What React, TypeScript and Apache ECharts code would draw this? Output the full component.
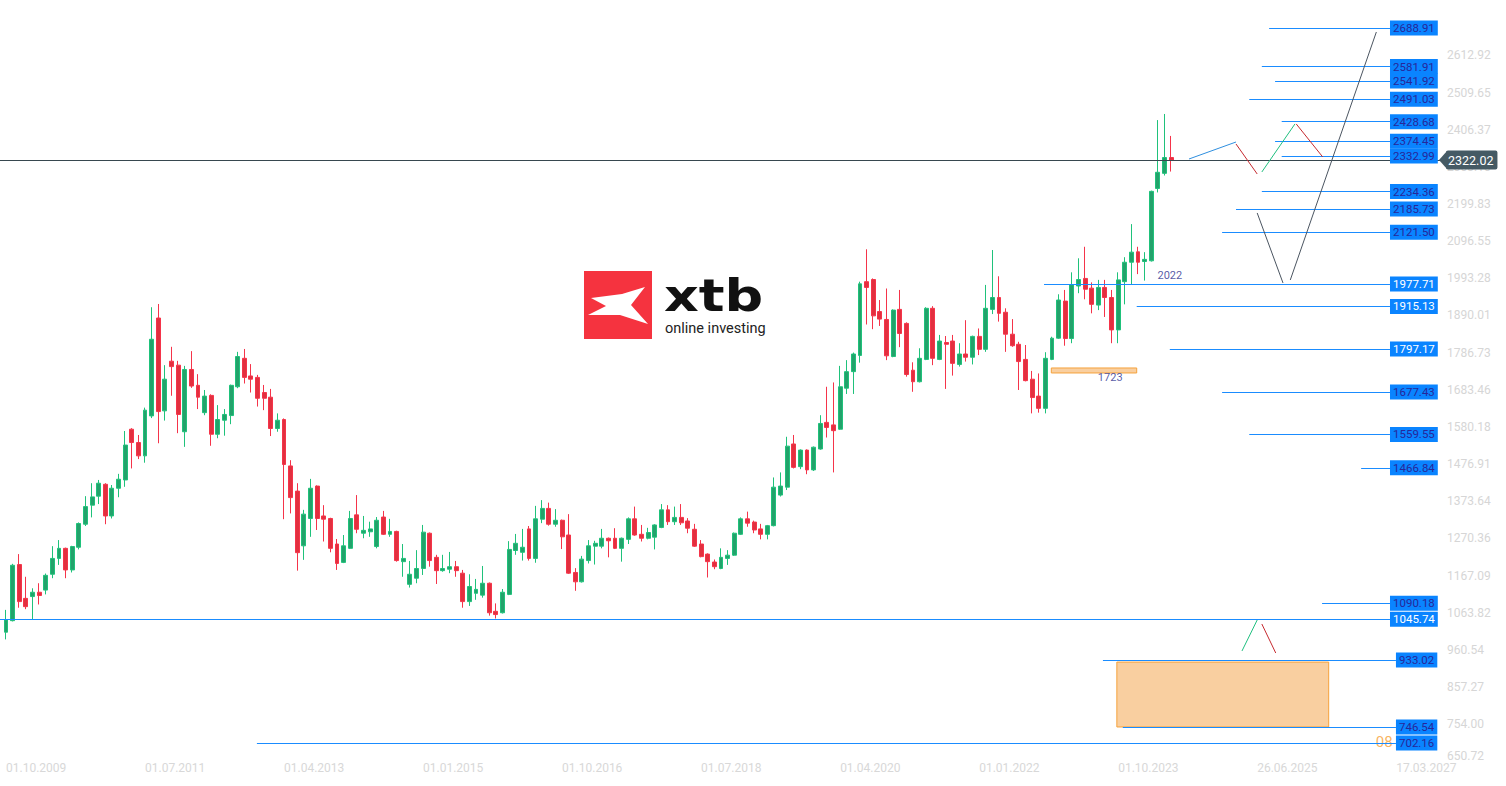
import React, { useEffect, useRef } from "react";
import * as echarts from "echarts";

// Monthly candles from 01.10.2009: [open, close, low, high]
const CANDLES: number[][] = [
  [1010, 1044, 990, 1072], [1042, 1196, 1040, 1200], [1198, 1095, 1078, 1227], [1104, 1081, 1074, 1164],
  [1109, 1121, 1046, 1132], [1121, 1112, 1087, 1146], [1127, 1168, 1115, 1173], [1171, 1215, 1160, 1249],
  [1215, 1243, 1197, 1266], [1243, 1183, 1160, 1245], [1183, 1248, 1176, 1250], [1246, 1312, 1240, 1315],
  [1310, 1359, 1305, 1388], [1363, 1386, 1329, 1424], [1388, 1424, 1366, 1433], [1421, 1333, 1310, 1424],
  [1333, 1410, 1326, 1419], [1410, 1435, 1385, 1450], [1433, 1530, 1414, 1569], [1574, 1537, 1465, 1577],
  [1537, 1500, 1491, 1558], [1500, 1627, 1481, 1634], [1611, 1824, 1605, 1913], [1883, 1623, 1535, 1922],
  [1625, 1713, 1598, 1752], [1763, 1748, 1667, 1803], [1752, 1615, 1563, 1764], [1567, 1740, 1525, 1750],
  [1740, 1694, 1689, 1791], [1696, 1663, 1630, 1727], [1620, 1666, 1613, 1683], [1668, 1560, 1528, 1671],
  [1560, 1601, 1549, 1641], [1599, 1615, 1556, 1630], [1612, 1696, 1588, 1698], [1692, 1776, 1688, 1789],
  [1771, 1718, 1701, 1797], [1722, 1713, 1676, 1755], [1718, 1660, 1637, 1725], [1676, 1660, 1627, 1697],
  [1663, 1576, 1555, 1686], [1576, 1599, 1567, 1618], [1601, 1476, 1324, 1604], [1472, 1384, 1340, 1488],
  [1402, 1231, 1181, 1424], [1250, 1338, 1211, 1350], [1326, 1410, 1275, 1436], [1416, 1326, 1294, 1418],
  [1333, 1324, 1262, 1363], [1326, 1243, 1232, 1328], [1255, 1201, 1183, 1269], [1204, 1250, 1202, 1280],
  [1243, 1326, 1241, 1347], [1336, 1296, 1285, 1391], [1285, 1293, 1271, 1333], [1289, 1297, 1275, 1317],
  [1248, 1321, 1243, 1330], [1330, 1282, 1280, 1347], [1282, 1290, 1275, 1325], [1290, 1209, 1206, 1292],
  [1206, 1215, 1164, 1255], [1143, 1171, 1134, 1208], [1160, 1187, 1146, 1238], [1187, 1288, 1169, 1308],
  [1285, 1209, 1192, 1287], [1218, 1181, 1144, 1225], [1181, 1187, 1178, 1225], [1185, 1192, 1174, 1233],
  [1192, 1181, 1164, 1208], [1174, 1095, 1078, 1183], [1095, 1137, 1083, 1171], [1118, 1129, 1100, 1158],
  [1113, 1146, 1106, 1194], [1146, 1064, 1056, 1148], [1068, 1059, 1048, 1090], [1064, 1121, 1062, 1130],
  [1115, 1240, 1113, 1263], [1237, 1257, 1225, 1283], [1232, 1246, 1209, 1297], [1297, 1215, 1209, 1305],
  [1215, 1325, 1203, 1361], [1324, 1354, 1313, 1377], [1354, 1310, 1306, 1370], [1310, 1321, 1303, 1352],
  [1321, 1275, 1241, 1323], [1280, 1174, 1172, 1338], [1176, 1150, 1125, 1188], [1150, 1213, 1148, 1222],
  [1209, 1250, 1201, 1266], [1249, 1257, 1198, 1264], [1249, 1271, 1243, 1297], [1271, 1264, 1218, 1273],
  [1271, 1243, 1241, 1299], [1243, 1271, 1206, 1273], [1268, 1325, 1255, 1329], [1325, 1280, 1278, 1359],
  [1282, 1271, 1262, 1308], [1271, 1287, 1268, 1300], [1274, 1308, 1240, 1310], [1301, 1350, 1299, 1366],
  [1350, 1317, 1308, 1363], [1317, 1329, 1308, 1359], [1329, 1314, 1308, 1366], [1319, 1299, 1285, 1327],
  [1296, 1249, 1247, 1311], [1255, 1220, 1218, 1266], [1227, 1206, 1162, 1229], [1205, 1192, 1185, 1212],
  [1187, 1218, 1185, 1243], [1215, 1224, 1197, 1238], [1224, 1285, 1222, 1287], [1282, 1325, 1280, 1329],
  [1325, 1313, 1303, 1345], [1316, 1294, 1285, 1320], [1297, 1282, 1268, 1311], [1282, 1306, 1268, 1308],
  [1306, 1413, 1304, 1440], [1391, 1416, 1387, 1454], [1413, 1527, 1405, 1553], [1533, 1468, 1465, 1558],
  [1470, 1516, 1463, 1518], [1516, 1461, 1449, 1518], [1461, 1524, 1458, 1526], [1519, 1590, 1517, 1613],
  [1593, 1579, 1551, 1692], [1586, 1570, 1454, 1704], [1574, 1692, 1572, 1750], [1688, 1734, 1672, 1766],
  [1734, 1783, 1672, 1787], [1779, 1978, 1759, 1984], [1984, 1968, 1865, 2074], [1990, 1889, 1852, 1993],
  [1901, 1880, 1861, 1933], [1879, 1778, 1766, 1965], [1776, 1905, 1774, 1907], [1907, 1840, 1802, 1961],
  [1868, 1726, 1720, 1871], [1738, 1706, 1678, 1760], [1706, 1771, 1704, 1799], [1768, 1910, 1766, 1913],
  [1910, 1771, 1752, 1916], [1768, 1819, 1766, 1836], [1815, 1810, 1686, 1833], [1819, 1757, 1723, 1836],
  [1754, 1783, 1748, 1813], [1783, 1774, 1762, 1877], [1774, 1832, 1754, 1834], [1832, 1796, 1780, 1854],
  [1796, 1910, 1789, 1975], [1907, 1940, 1894, 2072], [1940, 1896, 1873, 1999], [1899, 1838, 1789, 1910],
  [1838, 1806, 1803, 1880], [1810, 1762, 1683, 1817], [1768, 1709, 1707, 1808], [1713, 1662, 1618, 1736],
  [1666, 1632, 1620, 1729], [1632, 1771, 1618, 1788], [1768, 1827, 1766, 1831], [1827, 1933, 1825, 1949],
  [1930, 1826, 1806, 1961], [1826, 1975, 1813, 2010], [1972, 1990, 1952, 2049], [1993, 1963, 1935, 2081],
  [1966, 1921, 1896, 1982], [1919, 1968, 1905, 1989], [1968, 1940, 1886, 1989], [1940, 1850, 1813, 1961],
  [1850, 1989, 1813, 2010], [1984, 2038, 1921, 2052], [2038, 2066, 1977, 2144], [2067, 2038, 2005, 2081],
  [2040, 2046, 1987, 2066], [2042, 2235, 2040, 2237], [2243, 2288, 2232, 2433], [2285, 2329, 2279, 2450],
  [2329, 2322, 2290, 2389],
];

// x axis: month index from 01.10.2009
const X_TICK_INDEX = [0, 21, 42, 63, 84, 105, 126, 147, 168, 189, 210];
const X_TICK_LABELS = [
  "01.10.2009", "01.07.2011", "01.04.2013", "01.01.2015", "01.10.2016", "01.07.2018",
  "01.04.2020", "01.01.2022", "01.10.2023", "26.06.2025", "17.03.2027",
];
const Y_TICKS = [
  2612.92, 2509.65, 2406.37, 2303.1, 2199.83, 2096.55, 1993.28, 1890.01, 1786.73, 1683.46,
  1580.18, 1476.91, 1373.64, 1270.36, 1167.09, 1063.82, 960.54, 857.27, 754.0, 650.72,
];
const X_MIN = -0.906;
const X_MAX = 217.52;
const Y_MIN = 649.3;
const Y_MAX = 2766.7;

const LAST_PRICE = 2322.02;

// horizontal levels: price, first month index of the line, white text?
const LEVEL_PRICES = [
  2688.91, 2581.91, 2541.92, 2491.03, 2428.68, 2374.45, 2332.99, 2234.36, 2185.73, 2121.5,
  1977.71, 1915.13, 1797.17, 1677.43, 1559.55, 1466.84, 1090.18, 1045.74, 933.02, 746.54, 702.16,
];
const LEVEL_STARTS = [
  190.8, 189.7, 191.7, 187.8, 192.7, 191.7, 192.7, 189.7, 185.8, 183.7,
  156.8, 170.8, 175.8, 183.7, 187.8, 204.7, 198.8, X_MIN, 165.7, 168.7, 37.9,
];
const LEVEL_WHITE = [
  false, false, false, false, false, false, false, false, false, false,
  true, true, true, false, false, false, false, true, false, false, false,
];
const LEVEL_END = 209.06;

// projected path segments: [x1, price1, x2, price2]
const PROJ_SEGMENTS = [
  [178.7, 2324.9, 185.8, 2372.1],
  [185.8, 2366.6, 189.0, 2283.2],
  [189.7, 2288.8, 194.7, 2422.2],
  [194.9, 2422.2, 198.9, 2330.5],
  [189.0, 2174.9, 192.9, 1980.4],
  [194.0, 1988.7, 207.0, 2677.8],
  [186.7, 957.8, 189.0, 1043.9],
  [189.7, 1032.8, 191.8, 952.2],
];
const PROJ_KIND = ["up", "down", "up2", "down", "gray", "gray", "up2", "down"];

// zones: [x1, price1, x2, price2]
const ZONES = [
  [167.8, 927.0, 199.8, 746.6],
  [157.9, 1744.2, 170.8, 1730.3],
];

// text notes: [x, price]
const NOTE_POS = [
  [175.8, 2000],
  [166.8, 1719],
  [208.2, 703.5],
];
const NOTE_TEXT = ["2022", "1723", "08"];
const NOTE_ORANGE = [false, false, true];

export default function App() {
  const ref = useRef<HTMLDivElement>(null);

  useEffect(() => {
    const el = ref.current;
    if (!el) return;
    const chart = echarts.init(el, undefined, { renderer: "svg" });

    const kindColor: Record<string, string> = {
      up: "#2f8fdf",
      down: "#c62a2f",
      up2: "#1fbf7f",
      gray: "#4b5561",
    };

    const levelLines = LEVEL_PRICES.map((p, i) => {
      const txt = p.toFixed(2);
      const endX = txt.length > 6 ? LEVEL_END : LEVEL_END + 0.9;
      return [
        {
          coord: [LEVEL_STARTS[i], p],
          lineStyle: { color: "#1a8cff", width: 1, type: "solid" },
          label: {
            show: true,
            position: "end",
            distance: 0,
            formatter: txt,
            backgroundColor: "#0a84ff",
            color: LEVEL_WHITE[i] ? "#ffffff" : "#27279a",
            fontFamily: "Roboto",
            fontSize: 11.5,
            padding: [2, 3, 1, 3],
          },
        },
        { coord: [endX, p] },
      ];
    });

    const projLines = PROJ_SEGMENTS.map((s, i) => [
      {
        coord: [s[0], s[1]],
        lineStyle: { color: kindColor[PROJ_KIND[i]], width: 1, type: "solid" },
        label: { show: false },
      },
      { coord: [s[2], s[3]] },
    ]);

    const priceLine = {
      yAxis: LAST_PRICE,
      lineStyle: { color: "#37474f", width: 1, type: "solid" },
      label: {
        show: true,
        position: "end",
        distance: 0,
        formatter: LAST_PRICE.toFixed(2),
        backgroundColor: "#455a64",
        color: "#ffffff",
        fontFamily: "Roboto",
        fontSize: 12.5,
        padding: [3, 4, 3, 2],
        borderRadius: 2,
      },
    };

    const zones = ZONES.map((z) => [
      {
        coord: [z[0], z[1]],
        itemStyle: { color: "#f9cfa0", borderColor: "#f5a23c", borderWidth: 1 },
      },
      { coord: [z[2], z[3]] },
    ]);

    const xtbWing = [
      [591, 298], [622, 294], [645, 287], [631, 305], [648, 324],
      [620, 315], [588, 315], [606, 306],
    ];

    const baseOption: any = {
      animation: false,
      backgroundColor: "#ffffff",
      grid: { left: 0, top: 0, width: 1446, height: 762, containLabel: false },
      xAxis: {
        type: "value",
        min: X_MIN,
        max: X_MAX,
        axisLine: { show: false },
        axisTick: { show: false },
        splitLine: { show: false },
        axisLabel: {
          customValues: X_TICK_INDEX,
          formatter: (v: number) => {
            const k = X_TICK_INDEX.indexOf(Math.round(v));
            return k >= 0 ? X_TICK_LABELS[k] : "";
          },
          align: "left",
          margin: 0,
          color: "#d8d8d8",
          fontFamily: "Roboto",
          fontSize: 12,
        },
      },
      yAxis: {
        type: "value",
        position: "right",
        min: Y_MIN,
        max: Y_MAX,
        axisLine: { show: false },
        axisTick: { show: false },
        splitLine: { show: false },
        axisLabel: {
          customValues: Y_TICKS,
          formatter: (v: number) =>
            v < 700 ? "{low|" + v.toFixed(2) + "}" : v.toFixed(2),
          align: "left",
          margin: 1,
          color: "#d6d6d6",
          fontFamily: "Roboto",
          fontSize: 12,
          rich: {
            low: {
              color: "#d6d6d6",
              fontFamily: "Roboto",
              fontSize: 12,
              padding: [0, 0, 10, 0],
            },
          },
        },
      },
      graphic: [
        { type: "rect", shape: { x: 584, y: 271, width: 68, height: 68 }, style: { fill: "#f5333f" } },
        { type: "polygon", shape: { points: xtbWing }, style: { fill: "#ffffff" } },
        {
          type: "text",
          x: 664,
          y: 296,
          scaleX: 1.2,
          style: {
            text: "xtb",
            font: 'bold 45px "DejaVu Sans"',
            fill: "#111111",
            verticalAlign: "middle",
          },
        },
        {
          type: "text",
          x: 665,
          y: 328,
          style: {
            text: "online investing",
            font: '14.5px "Roboto"',
            fill: "#222222",
            verticalAlign: "middle",
          },
        },
      ],
      series: [
        {
          type: "candlestick",
          z: 3,
          data: CANDLES.map((c, i) => [i, c[0], c[1], c[2], c[3]]),
          encode: { x: 0, y: [1, 2, 3, 4] },
          barWidth: 4.4,
          itemStyle: {
            color: "#23a26b",
            color0: "#e2303f",
            borderColor: "#1fc27b",
            borderColor0: "#f5344a",
            borderWidth: 1,
          },
          markLine: {
            silent: true,
            symbol: ["none", "none"],
            animation: false,
            data: [priceLine, ...levelLines, ...projLines],
          },
          markArea: {
            silent: true,
            animation: false,
            data: zones,
          },
        },
        {
          type: "scatter",
          z: 1,
          silent: true,
          symbolSize: 1,
          itemStyle: { color: "rgba(0,0,0,0)" },
          data: NOTE_POS.map((p, i) => ({
            value: p,
            label: NOTE_ORANGE[i]
              ? { color: "#f7a035", fontSize: 15, fontFamily: "Roboto" }
              : { color: "#2b2f8f", fontSize: 11, fontFamily: "Roboto" },
          })),
          label: {
            show: true,
            position: "inside",
            formatter: (p: any) => NOTE_TEXT[p.dataIndex],
          },
        },
      ],
    };

    chart.setOption(baseOption);

    // pointed left edge of the last-price badge, placed through the y scale
    const yPx = chart.convertToPixel({ yAxisIndex: 0 }, LAST_PRICE) as number;
    const xPx = chart.convertToPixel({ xAxisIndex: 0 }, X_MAX) as number;
    chart.setOption({
      graphic: [
        ...baseOption.graphic,
        {
          type: "polygon",
          z: 100,
          shape: { points: [[xPx - 7, yPx], [xPx + 1, yPx - 9], [xPx + 1, yPx + 9]] },
          style: { fill: "#455a64" },
        },
      ],
    });

    return () => chart.dispose();
  }, []);

  return (
    <div
      ref={ref}
      style={{ position: "fixed", left: 0, top: 0, width: 1506, height: 786, background: "#fff" }}
    />
  );
}
